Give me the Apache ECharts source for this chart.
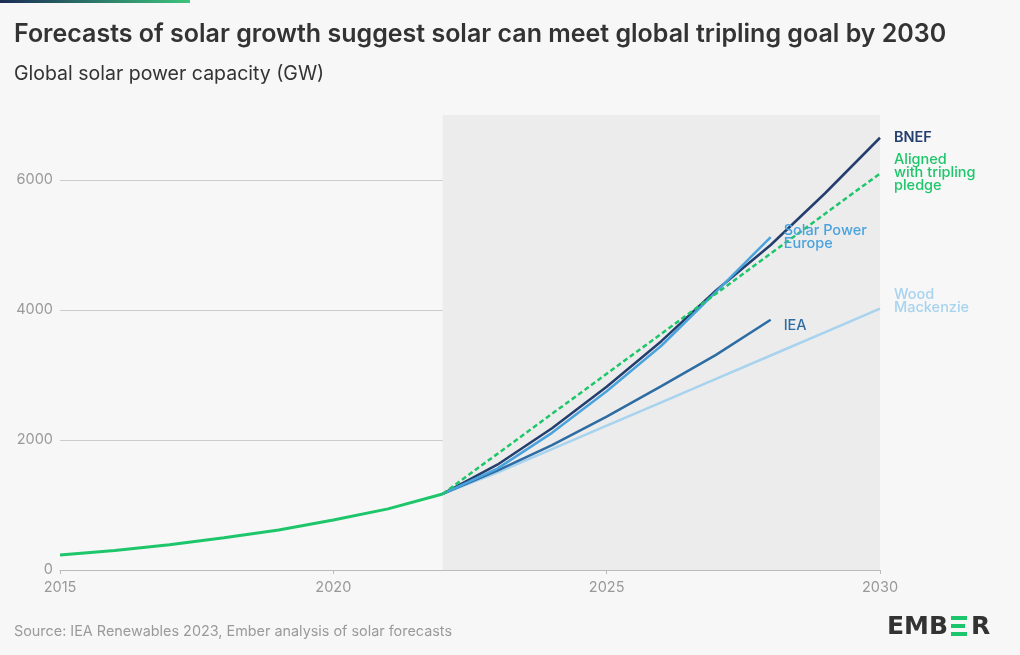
<!DOCTYPE html>
<html><head><meta charset="utf-8">
<script src="https://cdn.jsdelivr.net/npm/echarts@6/dist/echarts.min.js"></script>
<style>html,body{margin:0;padding:0;background:#f7f7f7}#c{width:1020px;height:655px}</style>
</head><body><div id="c"></div>
<script>
const years = [2015,2016,2017,2018,2019,2020,2021,2022,2023,2024,2025,2026,2027,2028,2029,2030];
const historical = [230,300,390,495,615,770,940,1170];
const bnef = [1170,1620,2180,2820,3520,4300,5000,5800,6650];
const spe = [1170,1560,2110,2750,3450,4280,5120];
const iea = [1170,1530,1920,2360,2830,3310,3850];
const woodMac = [1170,1500,1860,2220,2580,2940,3300,3660,4020];
const tripling = [[2022,1170],[2030,6100]];
const yTicks = [0,2000,4000,6000];
const forecastStart = 2022, forecastEnd = 2030;
const titleText = 'Forecasts of solar growth suggest solar can meet global tripling goal by 2030';
const subtitleText = 'Global solar power capacity (GW)';
const sourceText = 'Source: IEA Renewables 2023, Ember analysis of solar forecasts';

function pair(startIdx, vals){ return vals.map((v,i)=>[years[startIdx+i], v]); }
const FONT = 'Inter';
const AX = 14.5;
const chart = echarts.init(document.getElementById('c'), null, {renderer:'canvas'});
const lbl = (color, weight, offset) => ({show:true, formatter:p=>p.seriesName, color, fontFamily:FONT, fontSize:14.5, fontWeight:weight||500, lineHeight:13, distance:13, offset:offset||[0,0], align:'left'});
chart.setOption({
  backgroundColor:'#f7f7f7',
  animation:false,
  graphic:[
    {type:'rect', left:0, top:0, shape:{width:190, height:3}, style:{fill:new echarts.graphic.LinearGradient(0,0,1,0,[{offset:0,color:'#1b2c55'},{offset:1,color:'#3dc47c'}])}},
    {type:'text', x:14, y:34, style:{text:titleText, fontFamily:FONT, fontSize:25, fontWeight:600, fill:'#333', verticalAlign:'middle'}},
    {type:'text', x:14, y:74, style:{text:subtitleText, fontFamily:FONT, fontSize:19.5, fontWeight:400, fill:'#333', verticalAlign:'middle'}},
    {type:'text', x:14, y:632, style:{text:sourceText, fontFamily:FONT, fontSize:14.4, fontWeight:400, fill:'#9a9a9a', verticalAlign:'middle'}},
    {type:'text', x:887, y:627, style:{text:'EMB', font:'bold 25px "DejaVu Sans"', fill:'#333', verticalAlign:'middle'}},
    {type:'rect', left:951, top:616, shape:{width:16, height:4}, style:{fill:'#1ec66b'}},
    {type:'rect', left:951, top:624, shape:{width:14, height:4}, style:{fill:'#1ec66b'}},
    {type:'rect', left:951, top:632, shape:{width:16, height:4}, style:{fill:'#1ec66b'}},
    {type:'text', x:971, y:627, style:{text:'R', font:'bold 25px "DejaVu Sans"', fill:'#333', verticalAlign:'middle'}}
  ],
  grid:{left:60, right:140, top:115, bottom:85, containLabel:false},
  xAxis:{type:'value', min:2015, max:2030, interval:5,
    axisLine:{lineStyle:{color:'#bbb'}}, axisTick:{show:true, length:4, lineStyle:{color:'#bbb'}},
    splitLine:{show:false},
    axisLabel:{formatter:v=>String(v), color:'#999', fontFamily:FONT, fontSize:AX, margin:10}},
  yAxis:{type:'value', min:0, max:7000, interval:2000,
    axisLine:{show:false}, axisTick:{show:false},
    splitLine:{lineStyle:{color:['#cccccc','#cccccc','#cccccc','#cccccc','rgba(0,0,0,0)']}},
    axisLabel:{formatter:v=>yTicks.includes(v)?String(v):'', color:'#999', fontFamily:FONT, fontSize:AX, margin:7}},
  series:[
    {type:'line', name:'shade', z:-1, silent:true, data:[], showSymbol:false,
      markArea:{silent:true, itemStyle:{color:'#ececec'}, data:[[{xAxis:forecastStart},{xAxis:forecastEnd}]]}},
    {type:'line', name:'Wood\nMackenzie', data:pair(7,woodMac), showSymbol:false, lineStyle:{color:'#a7d3ef', width:2.5}, itemStyle:{color:'#a7d3ef'}, endLabel:lbl('#a7d3ef',500,[1,-8])},
    {type:'line', name:'IEA', data:pair(7,iea), showSymbol:false, lineStyle:{color:'#2e6da4', width:2.5}, itemStyle:{color:'#2e6da4'}, endLabel:lbl('#2e6da4',500,[0,6])},
    {type:'line', name:'BNEF', data:pair(7,bnef), showSymbol:false, lineStyle:{color:'#243e6e', width:2.5}, itemStyle:{color:'#243e6e'}, endLabel:lbl('#243e6e',600,[1,0])},
    {type:'line', name:'Solar Power\nEurope', data:pair(7,spe), showSymbol:false, lineStyle:{color:'#4aa3dd', width:2.5}, itemStyle:{color:'#4aa3dd'}, endLabel:lbl('#4aa3dd',500,[0,0])},
    {type:'line', name:'Aligned\nwith tripling\npledge', data:tripling, showSymbol:false, lineStyle:{color:'#1ec66b', width:2.5, type:[5,3]}, itemStyle:{color:'#1ec66b'}, endLabel:lbl('#1ec66b',500,[1,-1])},
    {type:'line', name:'Historical', data:pair(0,historical), showSymbol:false, lineStyle:{color:'#1ec66b', width:3}, itemStyle:{color:'#1ec66b'}}
  ]
});
</script></body></html>
